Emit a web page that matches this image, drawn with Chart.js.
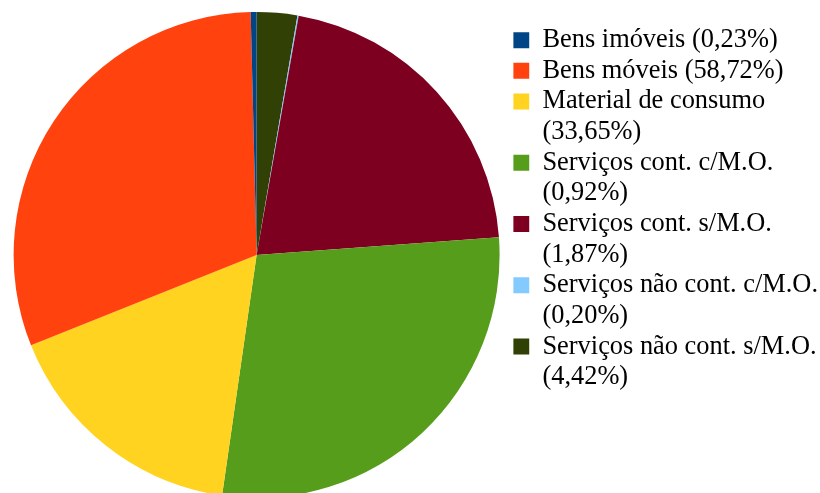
<!DOCTYPE html>
<html>
<head>
<meta charset="utf-8">
<script src="https://cdn.jsdelivr.net/npm/chart.js@4/dist/chart.umd.min.js"></script>
<style>
    html, body { margin: 0; background: #fff; overflow: hidden; }
    /* canvas is a little wider than the window; the legend's spare right margin falls outside */
    #wrap { position: relative; width: 828px; height: 493px; }
</style>
</head>
<body>
<div id="wrap"><canvas id="pieChart"></canvas></div>
<script>
// legend order
var categories = ['Bens imóveis', 'Bens móveis', 'Material de consumo', 'Serviços cont. c/M.O.',
    'Serviços cont. s/M.O.', 'Serviços não cont. c/M.O.', 'Serviços não cont. s/M.O.'];
var legendPercents = ['(0,23%)', '(58,72%)', '(33,65%)', '(0,92%)', '(1,87%)', '(0,20%)', '(4,42%)'];
// slice sizes as drawn (share of the circle, %)
var sliceValues = [0.39, 30.67, 16.67, 28.44, 21.06, 0.08, 2.69];
var sliceColors = ['#004586', '#ff420e', '#ffd320', '#579d1c', '#7e0021', '#83caff', '#314004'];
// the first two labels fit on one line, the others wrap
var wrapLabel = [false, false, true, true, true, true, true];

document.addEventListener('DOMContentLoaded', function() {
    // the pie runs counter-clockwise from the top, so feed it reversed
    var pieLabels = categories.slice().reverse();
    var pieValues = sliceValues.slice().reverse();
    var pieColors = sliceColors.slice().reverse();

    var ctx = document.getElementById('pieChart').getContext('2d');
    var chart = new Chart(ctx, {
        type: 'pie',
        data: {
            labels: pieLabels,
            datasets: [{
                data: pieValues,
                backgroundColor: pieColors,
                borderWidth: 0,
                radius: 243,
                clip: false
            }]
        },
        options: {
            responsive: true,
            maintainAspectRatio: false,
            animation: false,
            events: [],
            layout: {
                padding: { left: 0, right: 0, top: 27, bottom: 10 }
            },
            plugins: {
                tooltip: { enabled: false },
                legend: {
                    position: 'right',
                    align: 'start',
                    labels: {
                        color: '#000',
                        padding: 0,
                        boxWidth: 16,
                        boxHeight: 16,
                        font: { family: 'Liberation Serif', size: 26.4, lineHeight: '30.64px' },
                        generateLabels: function(chart) {
                            return categories.map(function(name, i) {
                                var text = wrapLabel[i] ? [name, legendPercents[i]] : [name + ' ' + legendPercents[i]];
                                return {
                                    text: text,
                                    fillStyle: sliceColors[i],
                                    strokeStyle: sliceColors[i],
                                    lineWidth: 0,
                                    fontColor: '#000',
                                    hidden: false,
                                    index: i
                                };
                            });
                        }
                    }
                }
            }
        }
    });
});
</script>
</body>
</html>
